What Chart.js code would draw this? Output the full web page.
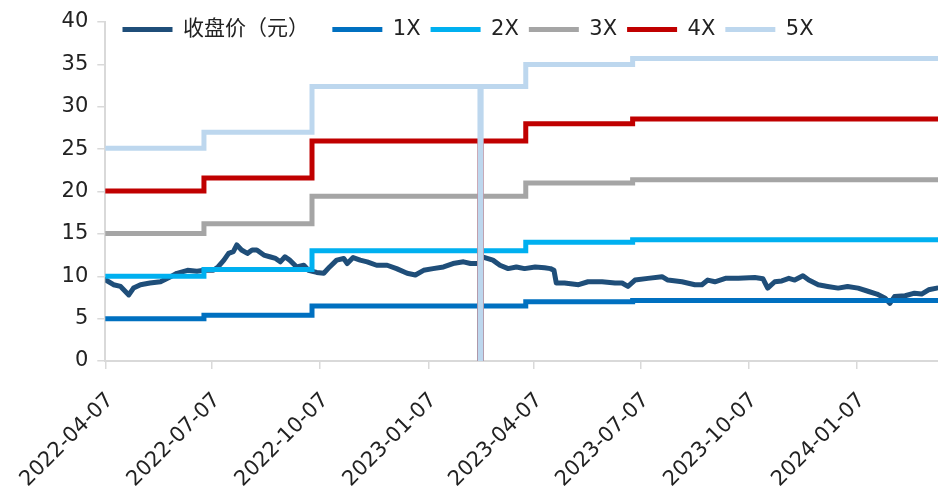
<!DOCTYPE html>
<html>
<head>
<meta charset="utf-8">
<script src="https://cdn.jsdelivr.net/npm/chart.js@4.4.1/dist/chart.umd.min.js"></script>
<style>
  body { margin: 0; background: #fff; }
  canvas { display: block; }
</style>
</head>
<body>
<canvas id="myChart" width="938" height="491"></canvas>
<script>
// x axis is linear: days counted from the first trading day
const START = Date.UTC(2022, 3, 7);
const END_DATE = "2024-03-16";

const xTickLabels = ["2022-04-07", "2022-07-07", "2022-10-07", "2023-01-07",
  "2023-04-07", "2023-07-07", "2023-10-07", "2024-01-07"];

// 收盘价
const priceDates = [
  "2022-04-07", "2022-04-14", "2022-04-20", "2022-04-27", "2022-05-01", "2022-05-07",
  "2022-05-15", "2022-05-24", "2022-05-30", "2022-06-07", "2022-06-16", "2022-06-24",
  "2022-06-30", "2022-07-08", "2022-07-12", "2022-07-17", "2022-07-21", "2022-07-25",
  "2022-07-28", "2022-08-01", "2022-08-06", "2022-08-10", "2022-08-14", "2022-08-20",
  "2022-08-25", "2022-08-30", "2022-09-03", "2022-09-07", "2022-09-11", "2022-09-17",
  "2022-09-23", "2022-09-27", "2022-10-04", "2022-10-10", "2022-10-15", "2022-10-21",
  "2022-10-27", "2022-10-30", "2022-11-04", "2022-11-10", "2022-11-16", "2022-11-24",
  "2022-12-03", "2022-12-11", "2022-12-20", "2022-12-27", "2023-01-03", "2023-01-11",
  "2023-01-20", "2023-01-28", "2023-02-06", "2023-02-12", "2023-02-17", "2023-02-20",
  "2023-02-22", "2023-03-03", "2023-03-09", "2023-03-16", "2023-03-23", "2023-03-30",
  "2023-04-08", "2023-04-16", "2023-04-21", "2023-04-24", "2023-04-26", "2023-05-03",
  "2023-05-15", "2023-05-23", "2023-06-04", "2023-06-15", "2023-06-21", "2023-06-26",
  "2023-07-02", "2023-07-13", "2023-07-25", "2023-07-30", "2023-08-11", "2023-08-22",
  "2023-08-28", "2023-09-02", "2023-09-08", "2023-09-17", "2023-09-28", "2023-10-12",
  "2023-10-19", "2023-10-23", "2023-10-29", "2023-11-04", "2023-11-10", "2023-11-15",
  "2023-11-22", "2023-11-27", "2023-12-05", "2023-12-13", "2023-12-22", "2023-12-30",
  "2024-01-08", "2024-01-17", "2024-01-24", "2024-01-31", "2024-02-04", "2024-02-08",
  "2024-02-17", "2024-02-25", "2024-03-02", "2024-03-08", "2024-03-15"
];
const priceValues = [
  9.6, 9.0, 8.8, 7.8, 8.6, 9.0,
  9.2, 9.35, 9.75, 10.35, 10.7, 10.6,
  10.7, 10.7, 11.1, 11.9, 12.7, 12.9,
  13.7, 13.1, 12.7, 13.1, 13.1, 12.5,
  12.3, 12.1, 11.7, 12.3, 11.9, 11.1,
  11.3, 10.7, 10.45, 10.35, 11.1, 11.9,
  12.1, 11.5, 12.2, 11.9, 11.7, 11.3,
  11.3, 10.9, 10.35, 10.15, 10.7, 10.9,
  11.1, 11.5, 11.7, 11.5, 11.5, null,
  12.3, 11.9, 11.3, 10.9, 11.1, 10.9,
  11.1, 11.0, 10.9, 10.7, 9.2, 9.2,
  9.0, 9.35, 9.35, 9.2, 9.2, 8.8,
  9.55, 9.75, 9.95, 9.55, 9.35, 9.0,
  9.0, 9.55, 9.35, 9.75, 9.75, 9.85,
  9.7, 8.6, 9.35, 9.45, 9.75, 9.55,
  10.05, 9.55, 9.0, 8.8, 8.6, 8.8,
  8.6, 8.2, 7.9, 7.4, 6.8, 7.6,
  7.7, 8.0, 7.9, 8.4, 8.6
];

// PE bands, each value holds until the next date
const bandDates = ["2022-04-07", "2022-06-30", "2022-09-30", "2023-02-20", "2023-02-21",
  "2023-03-31", "2023-06-30", END_DATE];
const band1x = [5.0, 5.4, 6.5, 0, 6.5, 7.0, 7.15, 7.15];
const band2x = [10.0, 10.8, 13.0, 0, 13.0, 14.0, 14.3, 14.3];
const band3x = [15.05, 16.2, 19.45, 0, 19.45, 21.0, 21.4, 21.4];
const band4x = [20.05, 21.6, 25.95, 0, 25.95, 28.0, 28.55, 28.55];
const band5x = [25.1, 27.0, 32.4, 0, 32.4, 35.0, 35.7, 35.7];

const FONT = "'DejaVu Sans', 'Noto Sans CJK SC', sans-serif";

function dayOf(s) {
  const [y, m, d] = s.split("-").map(Number);
  return (Date.UTC(y, m - 1, d) - START) / 86400000;
}

function toPoints(dates, values) {
  return dates.map((d, i) => ({ x: dayOf(d), y: values[i] }));
}

function line(label, dates, values, color, order, stepped) {
  return {
    label,
    data: toPoints(dates, values),
    borderColor: color,
    backgroundColor: color,
    borderWidth: 5,
    borderCapStyle: "round",
    borderJoinStyle: stepped ? "miter" : "round",
    pointRadius: 0,
    fill: false,
    stepped: stepped,
    order
  };
}

// legend floats over the top-left of the plot: it takes no layout height
const legendSpot = {
  id: "legendSpot",
  beforeLayout(chart) {
    const lg = chart.legend;
    if (lg && !lg._floating) {
      const fit = lg.fit;
      lg.fit = function () {
        fit.call(this);
        this._realHeight = this.height;
        this.height = 0;
      };
      lg._floating = true;
    }
  },
  afterLayout(chart) {
    const lg = chart.legend;
    lg.left = 112.5;
    lg.top = 9;
    lg.right = chart.width;
    lg.height = lg._realHeight;
    lg.bottom = lg.top + lg.height;
  }
};

const ctx = document.getElementById("myChart").getContext("2d");
new Chart(ctx, {
  type: "line",
  data: {
    datasets: [
      line("收盘价（元）", priceDates, priceValues, "#1f4e79", 6, false),
      line("1X", bandDates, band1x, "#0070c0", 5, true),
      line("2X", bandDates, band2x, "#00b0f0", 4, true),
      line("3X", bandDates, band3x, "#a5a5a5", 3, true),
      line("4X", bandDates, band4x, "#c00000", 2, true),
      line("5X", bandDates, band5x, "#bdd7ee", 1, true)
    ]
  },
  options: {
    responsive: false,
    animation: false,
    layout: { padding: { top: 22, right: 0, bottom: 0, left: 0 } },
    plugins: {
      tooltip: { enabled: false },
      legend: {
        position: "top",
        align: "start",
        labels: {
          usePointStyle: true,
          pointStyle: "line",
          pointStyleWidth: 50,
          padding: 10,
          color: "#222",
          font: { family: FONT, size: 21 },
          sort: (a, b) => a.datasetIndex - b.datasetIndex,
          generateLabels: (chart) =>
            Chart.defaults.plugins.legend.labels.generateLabels(chart).map(item => {
              if (item.datasetIndex === 0) item.text = item.text + "  ";
              return item;
            })
        }
      }
    },
    scales: {
      x: {
        type: "linear",
        min: 0,
        max: dayOf(END_DATE),
        afterBuildTicks: scale => {
          scale.ticks = xTickLabels.map(s => ({ value: dayOf(s) }));
        },
        afterFit: scale => { scale.height = 130; },
        border: { display: true, color: "#d9d9d9", width: 2 },
        grid: { drawOnChartArea: false, drawTicks: true, tickLength: 8, color: "#d9d9d9", lineWidth: 1.5 },
        ticks: {
          autoSkip: false,
          minRotation: 45,
          maxRotation: 45,
          padding: 19,
          labelOffset: 5,
          color: "#222",
          font: { family: FONT, size: 21 },
          callback: (value, index) => xTickLabels[index]
        }
      },
      y: {
        min: 0,
        max: 40,
        afterFit: scale => { scale.width = 105; },
        border: { display: true, color: "#d9d9d9", width: 2 },
        grid: { drawOnChartArea: false, drawTicks: true, tickLength: 8, color: "#d9d9d9", lineWidth: 1.5 },
        ticks: {
          stepSize: 5,
          padding: 9,
          color: "#222",
          font: { family: FONT, size: 21 }
        }
      }
    }
  },
  plugins: [legendSpot]
});
</script>
</body>
</html>
